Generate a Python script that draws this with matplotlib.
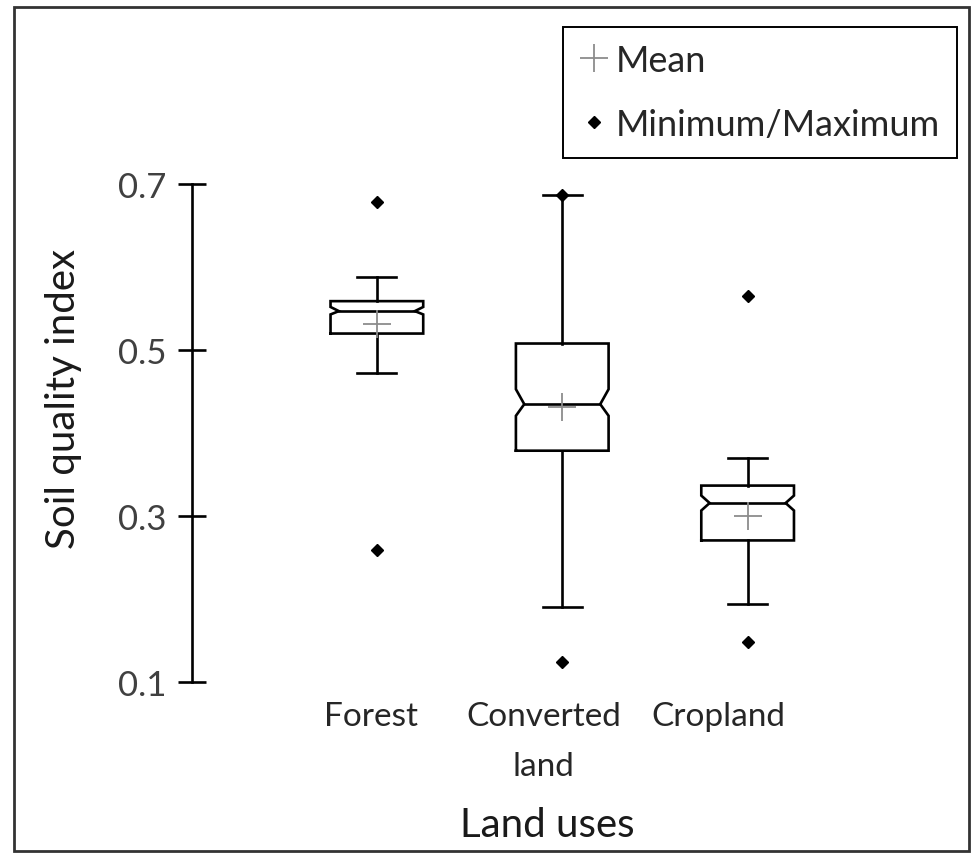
import matplotlib.pyplot as plt
from matplotlib.lines import Line2D
from matplotlib.patches import Rectangle

plt.rcParams['font.family'] = ['Lato', 'DejaVu Sans']

# box statistics
land_uses = ["Forest", "Converted\nland", "Cropland"]
minimum = [0.260, 0.125, 0.149]
whisker_lo = [0.472, 0.191, 0.194]
q1 = [0.520, 0.379, 0.271]
notch_lo = [0.543, 0.421, 0.307]
median = [0.547, 0.435, 0.316]
notch_hi = [0.552, 0.453, 0.325]
q3 = [0.559, 0.508, 0.337]
whisker_hi = [0.588, 0.687, 0.370]
maximum = [0.678, 0.687, 0.565]
mean = [0.531, 0.432, 0.301]
yticks = [0.1, 0.3, 0.5, 0.7]

box_w = 0.5
cap_w = 0.21
inset = 0.045
lw = 1.9
label_shift = [-0.03, -0.1, -0.16]   # Excel puts the category labels a bit left of the boxes

fig = plt.figure(figsize=(9.71, 8.54), dpi=100)
ax = fig.add_axes([191.5 / 971, 1 - 683.5 / 854, (933 - 191.5) / 971, (683.5 - 185) / 854])

for i in range(len(land_uses)):
    x = i + 1
    l, r = x - box_w / 2, x + box_w / 2
    # notched box outline
    bx = [l, l, l + inset, l, l, r, r, r - inset, r, r, l]
    by = [q1[i], notch_lo[i], median[i], notch_hi[i], q3[i], q3[i], notch_hi[i], median[i], notch_lo[i], q1[i], q1[i]]
    ax.plot(bx, by, color='black', lw=lw, solid_joinstyle='miter')
    ax.plot([l + inset, r - inset], [median[i], median[i]], color='black', lw=lw)
    # whiskers and caps
    ax.plot([x, x], [q3[i], whisker_hi[i]], color='black', lw=lw)
    ax.plot([x, x], [q1[i], whisker_lo[i]], color='black', lw=lw)
    ax.plot([x - cap_w / 2, x + cap_w / 2], [whisker_hi[i]] * 2, color='black', lw=lw)
    ax.plot([x - cap_w / 2, x + cap_w / 2], [whisker_lo[i]] * 2, color='black', lw=lw)

pos = [i + 1 for i in range(len(land_uses))]
ax.plot(pos, mean, ls='none', marker='+', ms=20, mew=1.3, color='#8c8c8c', zorder=3)
ax.plot(pos, minimum, ls='none', marker='D', ms=6.5, color='black')
ax.plot(pos, maximum, ls='none', marker='D', ms=6.5, color='black')

ax.set_xlim(0, 4)
ax.set_ylim(0.1, 0.7)
ax.set_yticks(yticks)
ax.set_yticklabels(["0.1", "0.3", "0.5", "0.7"])
ax.set_xticks([p + s for p, s in zip(pos, label_shift)])
ax.set_xticklabels(land_uses, linespacing=1.85)
for s in ['top', 'right', 'bottom']:
    ax.spines[s].set_visible(False)
ax.spines['left'].set_linewidth(lw)
ax.tick_params(axis='y', direction='inout', length=19.5, width=lw, pad=8,
               labelsize=25, labelcolor='#404040')
ax.tick_params(axis='x', length=0, pad=13, labelsize=24, labelcolor='#262626')

fig.text(75 / 971, 1 - 399 / 854, "Soil quality index", rotation=90, rotation_mode='anchor',
         ha='center', va='baseline', fontsize=29, color='#1a1a1a')
fig.text(547 / 971, 1 - 837 / 854, "Land uses", ha='center', va='baseline',
         fontsize=29, color='#1a1a1a')

handles = [Line2D([], [], ls='none', marker='+', ms=20, mew=1.3, color='#8c8c8c'),
           Line2D([], [], ls='none', marker='D', ms=6, color='black')]
leg = fig.legend(handles, ["Mean", "Minimum/Maximum"], loc='upper left',
                 bbox_to_anchor=(563 / 971, 1 - 28 / 854), bbox_transform=fig.transFigure,
                 fancybox=False, edgecolor='black', fontsize=26, handlelength=0.79,
                 handletextpad=0.19, labelspacing=0.85, borderpad=0.47, borderaxespad=0,
                 labelcolor='#262626', framealpha=1)
leg.get_frame().set_linewidth(1.4)

fig.patches.append(Rectangle((14 / 971, 1 - 852 / 854), (969 - 14) / 971, (852 - 8) / 854,
                             transform=fig.transFigure, fill=False, lw=2, edgecolor='#333333'))

fig.savefig('out.png', dpi=100)
